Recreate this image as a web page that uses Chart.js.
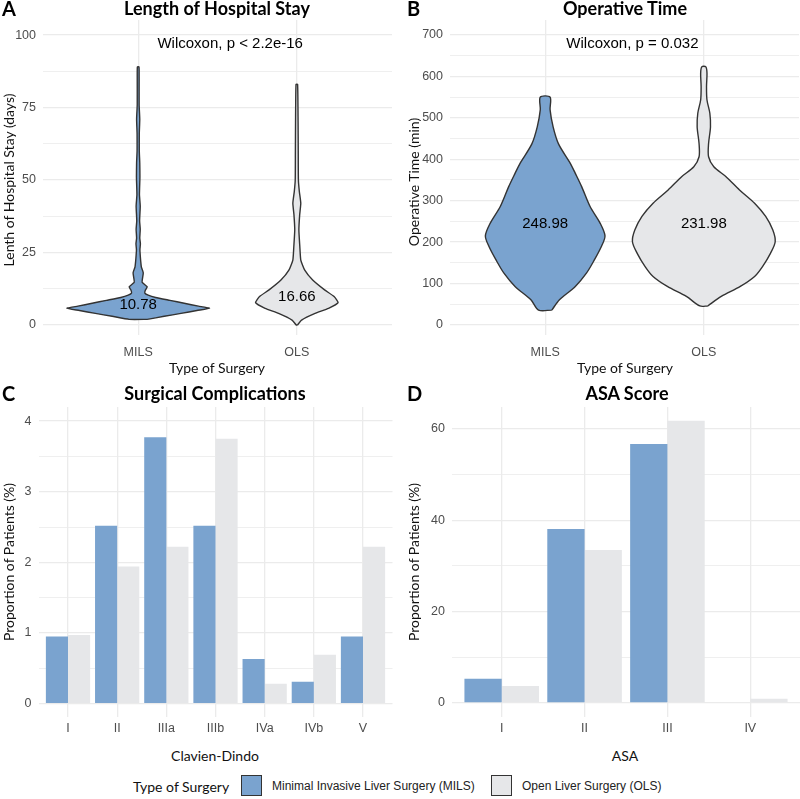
<!DOCTYPE html>
<html>
<head>
<meta charset="utf-8">
<script src="https://cdn.jsdelivr.net/npm/chart.js@4.4.1/dist/chart.umd.min.js"></script>
<style>
body { margin: 0; background: #fff; }
#wrap { position: relative; width: 800px; height: 799px; overflow: hidden; font-family: Lato, "Noto Sans", sans-serif; color: #000; }
#wrap canvas { position: absolute; }
.t { position: absolute; white-space: nowrap; transform: translate(-50%, -50%); z-index: 2; }
.title { font-weight: bold; font-size: 18px; }
.tag { font-weight: bold; font-size: 20px; transform: translate(0, -50%); }
.axt { font-size: 14px; color: #111; }
.yt { transform: translate(-50%, -50%) rotate(-90deg); }
.leg { position: absolute; top: 786px; transform: translateY(-50%); white-space: nowrap; z-index: 2; }
.box { position: absolute; top: 775px; width: 21px; height: 21px; border: 1.2px solid #333; box-sizing: border-box; }
</style>
</head>
<body>
<div id="wrap">
  <canvas id="stayChart" width="400" height="380" style="left:0;top:0"></canvas>
  <canvas id="opChart" width="400" height="380" style="left:400px;top:0"></canvas>
  <canvas id="compChart" width="400" height="360" style="left:0;top:380px"></canvas>
  <canvas id="asaChart" width="400" height="360" style="left:400px;top:380px"></canvas>

  <div class="t tag" style="left:2px;top:8px">A</div>
  <div class="t title" style="left:217px;top:8px">Length of Hospital Stay</div>
  <div class="t tag" style="left:407px;top:8px">B</div>
  <div class="t title" style="left:625px;top:8px">Operative Time</div>
  <div class="t tag" style="left:2px;top:393px">C</div>
  <div class="t title" style="left:215px;top:393px">Surgical Complications</div>
  <div class="t tag" style="left:407px;top:393px">D</div>
  <div class="t title" style="left:627px;top:393px">ASA Score</div>

  <div class="t axt yt" style="left:8px;top:180px">Lenth of Hospital Stay (days)</div>
  <div class="t axt yt" style="left:413px;top:182px">Operative Time (min)</div>
  <div class="t axt yt" style="left:8px;top:562px">Proportion of Patients (%)</div>
  <div class="t axt yt" style="left:413px;top:562px">Proportion of Patients (%)</div>
  <div class="t axt" style="left:217px;top:367px">Type of Surgery</div>
  <div class="t axt" style="left:625px;top:367px">Type of Surgery</div>
  <div class="t axt" style="left:215px;top:755px">Clavien-Dindo</div>
  <div class="t axt" style="left:625px;top:755px">ASA</div>

  <div class="leg axt" style="left:133px">Type of Surgery</div>
  <div class="box" style="left:241px;background:#7aa3cf"></div>
  <div class="leg" style="left:272px;font:12px 'Liberation Sans', Arial, sans-serif;color:#222">Minimal Invasive Liver Surgery (MILS)</div>
  <div class="box" style="left:491px;background:#e6e7e9"></div>
  <div class="leg" style="left:522px;font:12px 'Liberation Sans', Arial, sans-serif;color:#222">Open Liver Surgery (OLS)</div>
</div>

<script>
// groups
const groups = ['MILS', 'OLS'];

// Length of hospital stay violins: value (days) and half width (in group units)
const stayMilsY = [1.95, 3, 4, 5, 5.75, 6.5, 7.5, 8.5, 9.5, 10.3, 11, 12, 13.2, 14.7, 16, 18, 20, 22, 24, 26, 28, 30, 33, 36, 41, 45, 51, 56, 60, 66, 71, 76, 85, 89];
const stayMilsW = [0.057, 0.164, 0.27, 0.37, 0.45, 0.38, 0.29, 0.2, 0.11, 0.063, 0.042, 0.045, 0.057, 0.025, 0.027, 0.032, 0.02, 0.016, 0.013, 0.011, 0.014, 0.01, 0.013, 0.009, 0.013, 0.008, 0.011, 0.01, 0.007, 0.007, 0.01, 0.006, 0.006, 0.005];
const stayOlsY = [0, 1.7, 4, 5.75, 7.7, 9.8, 12.1, 15.5, 18.9, 22.4, 27, 32.8, 38, 42, 46, 50, 60, 70, 83];
const stayOlsW = [0.004, 0.03, 0.115, 0.2, 0.26, 0.235, 0.175, 0.1, 0.05, 0.025, 0.019, 0.013, 0.018, 0.025, 0.016, 0.01, 0.009, 0.008, 0.005];
const stayMeans = ['10.78', '16.66'];
const stayLabelY = [6.9, 9.7];
const stayTest = 'Wilcoxon, p < 2.2e-16';

// Operative time violins: value (min) and half width
const opMilsY = [36, 61, 93, 125, 157, 190, 215, 246, 286, 334, 366, 389, 437, 478, 519, 550];
const opMilsW = [0.042, 0.09, 0.19, 0.26, 0.31, 0.355, 0.377, 0.346, 0.283, 0.23, 0.19, 0.16, 0.084, 0.05, 0.031, 0.031];
const opOlsY = [46, 69, 93, 117, 141, 173, 201, 229, 262, 294, 326, 358, 382, 406, 438, 478, 511, 543, 575, 607, 623];
const opOlsW = [0.025, 0.11, 0.23, 0.32, 0.37, 0.42, 0.45, 0.435, 0.39, 0.32, 0.225, 0.14, 0.063, 0.03, 0.03, 0.042, 0.038, 0.02, 0.017, 0.02, 0.013];
const opMeans = ['248.98', '231.98'];
const opLabelY = [244, 244];
const opTest = 'Wilcoxon, p = 0.032';

// Surgical complications (% of patients)
const clavien = ['I', 'II', 'IIIa', 'IIIb', 'IVa', 'IVb', 'V'];
const clavienMils = [0.95, 2.52, 3.77, 2.52, 0.63, 0.31, 0.95];
const clavienOls = [0.97, 1.94, 2.22, 3.75, 0.28, 0.69, 2.22];

// ASA score (% of patients)
const asa = ['I', 'II', 'III', 'IV'];
const asaMils = [5.3, 38.1, 56.7, 0];
const asaOls = [3.7, 33.5, 61.8, 0.9];

const blue = '#7aa3cf';
const grey = '#e6e7e9';
const gridCol = '#ebebeb';
const tickFont = { family: "'Liberation Sans', Arial, sans-serif", size: 12.5 };

// text drawn in data coordinates (test result + mean labels)
const panelText = {
    id: 'panelText',
    afterDatasetsDraw(chart, args, opts) {
        const { ctx, scales } = chart;
        ctx.save();
        ctx.fillStyle = '#000';
        ctx.font = "15px 'Liberation Sans', Arial, sans-serif";
        ctx.textAlign = 'center';
        ctx.textBaseline = 'middle';
        (opts.items || []).forEach(it => {
            ctx.fillText(it.text, scales.x.getPixelForValue(it.x), scales.y.getPixelForValue(it.y));
        });
        ctx.restore();
    }
};

function violinPoints(center, ys, ws) {
    const right = ys.map((y, i) => ({ x: center + ws[i], y }));
    const left = ys.map((y, i) => ({ x: center - ws[i], y })).reverse();
    return right.concat(left, [right[0]]);
}

function xScale(cats, height, pad) {
    return {
        type: 'linear',
        min: 0.4,
        max: cats.length + 0.6,
        offset: false,
        afterBuildTicks: s => { s.ticks = cats.map((c, i) => ({ value: i + 1 })); },
        afterFit: s => { s.height = height; },
        ticks: { autoSkip: false, maxRotation: 0, padding: pad, color: '#4d4d4d', font: tickFont,
                 callback: v => cats[Math.round(v) - 1] },
        grid: { offset: false, drawTicks: false, color: gridCol, lineWidth: 1.3 },
        border: { display: false }
    };
}

function yScale(min, max, step, width) {
    const isMajor = v => Math.abs(v / step - Math.round(v / step)) < 1e-6;
    return {
        type: 'linear',
        min, max,
        afterBuildTicks: s => {
            const t = [];
            for (let v = 0; v <= max + 1e-9; v += step / 2) t.push({ value: v });
            s.ticks = t;
        },
        afterFit: s => { s.width = width; },
        ticks: { autoSkip: false, padding: 7, color: '#4d4d4d', font: tickFont,
                 callback: v => (isMajor(v) ? v : '') },
        grid: { drawTicks: false, color: gridCol,
                lineWidth: c => (c.tick && isMajor(c.tick.value) ? 1.3 : 0.8) },
        border: { display: false }
    };
}

function baseOptions(pad, x, y, items) {
    return {
        responsive: false,
        animation: false,
        layout: { padding: pad },
        plugins: { legend: { display: false }, tooltip: { enabled: false }, panelText: { items } },
        scales: { x, y }
    };
}

function violinChart(id, milsY, milsW, olsY, olsW, tension, means, labelY, test, testX, testY, ymin, ymax, step, yWidth, rightPad) {
    const items = [{ text: test, x: testX, y: testY }];
    means.forEach((m, i) => items.push({ text: m, x: i + 1, y: labelY[i] }));
    new Chart(document.getElementById(id), {
        type: 'scatter',
        data: {
            datasets: [
                { data: violinPoints(1, milsY, milsW), backgroundColor: blue },
                { data: violinPoints(2, olsY, olsW), backgroundColor: grey }
            ].map(d => Object.assign(d, { showLine: true, fill: 'shape', borderColor: '#333',
                                           borderWidth: 1.4, pointRadius: 0, tension }))
        },
        options: baseOptions({ top: 20, right: rightPad, left: 0, bottom: 0 },
                             xScale(groups, 45, 10), yScale(ymin, ymax, step, yWidth), items),
        plugins: [panelText]
    });
}

function barChart(id, cats, mils, ols, ymin, ymax, step, yWidth, rightPad) {
    new Chart(document.getElementById(id), {
        type: 'bar',
        data: {
            datasets: [
                { data: mils.map((v, i) => ({ x: i + 1, y: v })), backgroundColor: blue },
                { data: ols.map((v, i) => ({ x: i + 1, y: v })), backgroundColor: grey }
            ].map(d => Object.assign(d, { categoryPercentage: 0.9, barPercentage: 1.0, borderWidth: 0 }))
        },
        options: baseOptions({ top: 27, right: rightPad, left: 0, bottom: 0 },
                             xScale(cats, 23, 4), yScale(ymin, ymax, step, yWidth), []),
        plugins: [panelText]
    });
}

violinChart('stayChart', stayMilsY, stayMilsW, stayOlsY, stayOlsW, 0.15, stayMeans, stayLabelY,
            stayTest, 1.58, 97, -3.45, 105.2, 25, 43, 8);
violinChart('opChart', opMilsY, opMilsW, opOlsY, opOlsW, 0.3, opMeans, opLabelY,
            opTest, 1.55, 678, -24.1, 736, 100, 50, 1);
barChart('compChart', clavien, clavienMils, clavienOls, -0.19, 4.2, 1, 38.5, 7.5);
barChart('asaChart', asa, asaMils, asaOls, -3.09, 64.8, 20, 52, 0);
</script>
</body>
</html>
